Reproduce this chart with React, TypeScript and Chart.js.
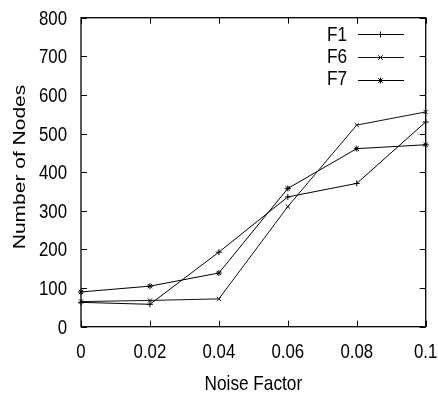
import React, { useEffect, useRef } from "react";
import { Chart, registerables } from "chart.js";

Chart.register(...registerables);

const xValues = [0, 0.02, 0.04, 0.06, 0.08, 0.1];
const xTickLabels = ["0", "0.02", "0.04", "0.06", "0.08", "0.1"];
const yTickValues = [0, 100, 200, 300, 400, 500, 600, 700, 800];
const seriesNames = ["F1", "F6", "F7"];
const f1Values = [63, 58, 193, 336, 371, 530];
const f6Values = [65, 68, 72, 311, 522, 556];
const f7Values = [90, 105, 139, 358, 461, 471];
const xTitle = "Noise Factor";
const yTitle = "Number of Nodes";

const FONT = "'Liberation Sans', Arial, Helvetica, sans-serif";
const SX = 0.82; // horizontal squeeze of all text, as in the reference

function drawMarker(ctx: CanvasRenderingContext2D, style: string, x: number, y: number, r: number) {
  ctx.beginPath();
  if (style === "cross" || style === "star") {
    ctx.moveTo(x - r, y);
    ctx.lineTo(x + r, y);
    ctx.moveTo(x, y - r);
    ctx.lineTo(x, y + r);
  }
  if (style === "crossRot" || style === "star") {
    const d = r * 0.75;
    ctx.moveTo(x - d, y - d);
    ctx.lineTo(x + d, y + d);
    ctx.moveTo(x - d, y + d);
    ctx.lineTo(x + d, y - d);
  }
  ctx.stroke();
}

function squeezedText(ctx: CanvasRenderingContext2D, text: string, x: number, y: number, align: CanvasTextAlign) {
  ctx.save();
  ctx.translate(x, y);
  ctx.scale(SX, 1);
  ctx.textAlign = align;
  ctx.textBaseline = "alphabetic";
  ctx.fillText(text, 0, 0);
  ctx.restore();
}

const framePlugin = {
  id: "frameTicks",
  afterDraw(chart: any) {
    const { ctx, chartArea } = chart;
    const { left, right, top, bottom } = chartArea;
    const xs = chart.scales.x;
    const ys = chart.scales.y;
    const tl = 6;
    ctx.save();
    ctx.strokeStyle = "#000";
    ctx.lineWidth = 1.3;
    ctx.strokeRect(left, top, right - left, bottom - top);
    ctx.lineWidth = 1;
    ctx.beginPath();
    yTickValues.forEach((v) => {
      const py = Math.round(ys.getPixelForValue(v)) + 0.5;
      ctx.moveTo(left, py);
      ctx.lineTo(left + tl, py);
      ctx.moveTo(right, py);
      ctx.lineTo(right - tl, py);
    });
    xValues.forEach((v) => {
      const px = Math.round(xs.getPixelForValue(v)) + 0.5;
      ctx.moveTo(px, bottom);
      ctx.lineTo(px, bottom - tl);
      ctx.moveTo(px, top);
      ctx.lineTo(px, top + tl);
    });
    ctx.stroke();

    ctx.fillStyle = "#000";
    // tick labels
    ctx.font = "20.5px " + FONT;
    yTickValues.forEach((v) => {
      squeezedText(ctx, String(v), 67, ys.getPixelForValue(v) + 7, "right");
    });
    xValues.forEach((v, i) => {
      squeezedText(ctx, xTickLabels[i], xs.getPixelForValue(v), 357.5, "center");
    });
    // axis titles
    ctx.font = "21px " + FONT;
    squeezedText(ctx, xTitle, (left + right) / 2, 390, "center");
    ctx.save();
    ctx.translate(25, 167);
    ctx.scale(SX, 1);
    ctx.rotate(-Math.PI / 2);
    ctx.textAlign = "center";
    ctx.textBaseline = "alphabetic";
    ctx.fillText(yTitle, 0, 0);
    ctx.restore();

    // legend
    chart.data.datasets.forEach((ds: any, i: number) => {
      const base = 40.7 + i * 22.2;
      const ly = 34.3 + i * 22.8;
      ctx.font = "21px " + FONT;
      ctx.fillStyle = "#000";
      squeezedText(ctx, ds.label, 347, base, "right");
      ctx.strokeStyle = ds.borderColor;
      ctx.lineWidth = 1;
      ctx.beginPath();
      ctx.moveTo(358, Math.round(ly) + 0.5);
      ctx.lineTo(404, Math.round(ly) + 0.5);
      ctx.stroke();
      drawMarker(ctx, ds.pointStyle, 380.5, Math.round(ly) + 0.5, 3);
    });
    ctx.restore();
  },
};

export default function App() {
  const ref = useRef<HTMLCanvasElement | null>(null);
  useEffect(() => {
    if (!ref.current) return;
    const mk = (label: string, vals: number[], style: string, color: string) => ({
      label,
      data: xValues.map((x, i) => ({ x, y: vals[i] })),
      borderColor: color,
      backgroundColor: color,
      borderWidth: 1,
      pointStyle: style,
      pointRadius: 3,
      pointBorderWidth: 1,
      pointBorderColor: color,
      fill: false,
      tension: 0,
      clip: false as any,
    });
    const hiddenAxis = {
      grid: { display: false, drawTicks: false },
      border: { display: false },
      ticks: { display: false },
      title: { display: false },
    };
    const chart = new Chart(ref.current, {
      type: "line",
      data: {
        datasets: [
          mk(seriesNames[0], f1Values, "cross", "#000"),
          mk(seriesNames[1], f6Values, "crossRot", "#111"),
          mk(seriesNames[2], f7Values, "star", "#000"),
        ],
      },
      options: {
        animation: false,
        responsive: false,
        devicePixelRatio: 1,
        layout: { padding: { left: 81, right: 12.3, top: 17.7, bottom: 70.3 } },
        plugins: { legend: { display: false }, tooltip: { enabled: false } },
        scales: {
          x: {
            type: "linear",
            min: 0,
            max: 0.1,
            ...hiddenAxis,
            afterBuildTicks: (scale: any) => {
              scale.ticks = xValues.map((v) => ({ value: v }));
            },
            afterFit: (scale: any) => {
              scale.height = 0;
            },
          },
          y: {
            min: 0,
            max: 800,
            ...hiddenAxis,
            afterBuildTicks: (scale: any) => {
              scale.ticks = yTickValues.map((v) => ({ value: v }));
            },
            afterFit: (scale: any) => {
              scale.width = 0;
            },
          },
        },
      },
      plugins: [framePlugin],
    });
    return () => chart.destroy();
  }, []);
  return (
    <div style={{ position: "absolute", left: 0, top: 0, width: 438, height: 397, background: "#fff" }}>
      <canvas ref={ref} width={438} height={397} />
    </div>
  );
}
